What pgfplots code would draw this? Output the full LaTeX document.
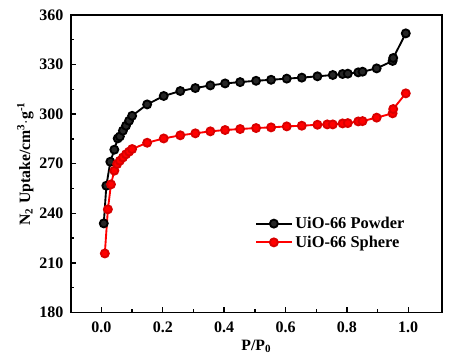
\documentclass[border=0pt]{standalone}
\usepackage{pgfplots}
\pgfplotsset{compat=1.18}
\usepackage{fontspec}
\setmainfont{Liberation Serif}
\begin{document}
\begin{tikzpicture}
\begin{axis}[
  name=ax,
  width=278pt, height=222.75pt, scale only axis,
  xmin=-0.1, xmax=1.11, ymin=180, ymax=360,
  xtick={0,0.2,...,1.0}, minor x tick num=1,
  ytick={180,210,...,360}, minor y tick num=1,
  xticklabel style={/pgf/number format/fixed,/pgf/number format/fixed zerofill,/pgf/number format/precision=1, anchor=base, yshift=-14.8pt},
  yticklabel style={anchor=east, xshift=-2pt},
  /pgf/number format/assume math mode=true,
  tick label style={font=\bfseries\fontsize{12}{13}\selectfont},
  tick align=inside, xtick pos=bottom, ytick pos=left,
  major tick length=4pt, minor tick length=2.5pt,
  axis line style={line width=1.3pt}, tick style={line width=1pt, black},
  xlabel={\textbf{P/P\textsubscript{0}}},
  ylabel={\textbf{N\textsubscript{2} Uptake/cm\textsuperscript{3}$\cdot$g\textsuperscript{-1}}},
  label style={font=\bfseries\fontsize{11.8}{13}\selectfont},
  xlabel style={at={(axis description cs:0.5,0)}, anchor=base, yshift=-28.5pt},
  ylabel style={at={(axis description cs:0,0.5)}, anchor=center, yshift=34pt},
  legend style={at={(0.485,0.34)}, anchor=north west, draw=none, fill=none, font=\bfseries\fontsize{12.3}{13}\selectfont, row sep=0pt},
  legend image code/.code={\draw[mark repeat=2,mark phase=2,#1] plot coordinates {(0cm,0cm)(0.47cm,0cm)(0.94cm,0cm)};},
  legend cell align=left,
]
\addplot[black, line width=1.4pt, mark=*, mark size=3pt, mark options={fill=black!85, draw=black}] coordinates {
(0.0076,233.9)(0.016,256.7)(0.029,271.2)(0.042,278.5)(0.053,285.3)(0.06,286.5)(0.07,290)(0.08,293)(0.09,296)(0.1,299)
(0.149,305.9)(0.203,311)(0.257,314)(0.306,315.8)(0.355,317.4)(0.403,318.6)(0.452,319.4)(0.504,320.2)(0.553,320.8)
(0.604,321.5)(0.653,322.1)(0.704,322.9)(0.754,323.7)(0.786,324.3)(0.803,324.5)(0.837,325.3)(0.851,325.7)(0.897,327.7)
(0.949,332.2)(0.951,334)(0.992,348.9)
};
\addlegendentry{UiO-66 Powder}
\addplot[red, line width=1.4pt, mark=*, mark size=3pt, mark options={fill=red, draw=red!85!black}] coordinates {
(0.011,215.7)(0.021,242.4)(0.031,257.5)(0.042,265.8)(0.051,269.8)(0.06,271.8)(0.07,273.8)(0.08,275.7)(0.09,277.3)(0.1,278.9)
(0.149,282.7)(0.203,285.3)(0.257,287.2)(0.306,288.4)(0.355,289.6)(0.403,290.4)(0.452,291)(0.504,291.6)(0.553,292)
(0.604,292.6)(0.653,293)(0.704,293.6)(0.736,293.8)(0.754,293.8)(0.786,294.4)(0.803,294.6)(0.837,295.6)(0.851,295.8)
(0.897,297.9)(0.949,300.5)(0.951,303.1)(0.992,312.6)
};
\addlegendentry{UiO-66 Sphere}
\end{axis}
\pgfresetboundingbox
\path[use as bounding box] ([shift={(-53pt,-32.25pt)}]ax.south west) rectangle ([shift={(6.75pt,11.25pt)}]ax.north east);
\end{tikzpicture}
\end{document}
